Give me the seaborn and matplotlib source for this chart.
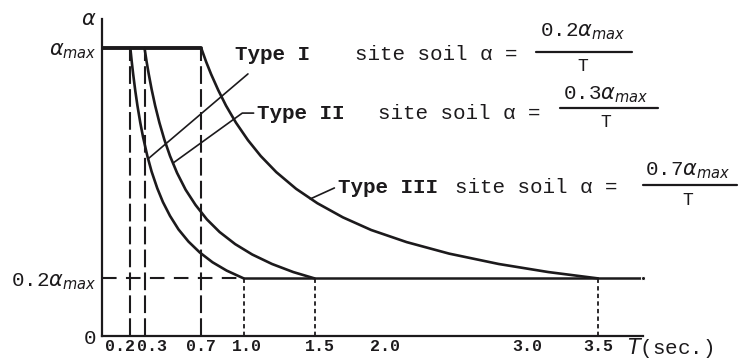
import matplotlib
matplotlib.use("Agg")
import matplotlib.pyplot as plt
import seaborn as sns
import pandas as pd
from matplotlib.transforms import ScaledTranslation

# ---------------- data ----------------
type1_T = [0.2, 0.21, 0.22, 0.235, 0.25, 0.27, 0.29, 0.32, 0.35, 0.39, 0.43, 0.48, 0.54, 0.61, 0.69, 0.78, 0.88, 1.0]
type1_a = [1.0, 0.952, 0.909, 0.851, 0.80, 0.741, 0.690, 0.625, 0.571, 0.513, 0.465, 0.417, 0.370, 0.328, 0.290, 0.256, 0.227, 0.20]
type2_T = [0.3, 0.315, 0.33, 0.35, 0.375, 0.405, 0.44, 0.48, 0.53, 0.59, 0.66, 0.74, 0.83, 0.94, 1.06, 1.2, 1.35, 1.5]
type2_a = [1.0, 0.952, 0.909, 0.857, 0.80, 0.741, 0.682, 0.625, 0.566, 0.508, 0.455, 0.405, 0.361, 0.319, 0.283, 0.25, 0.222, 0.20]
type3_T = [0.7, 0.735, 0.77, 0.82, 0.875, 0.945, 1.03, 1.12, 1.23, 1.37, 1.52, 1.7, 1.9, 2.15, 2.45, 2.8, 3.15, 3.5]
type3_a = [1.0, 0.952, 0.909, 0.854, 0.80, 0.741, 0.680, 0.625, 0.569, 0.511, 0.461, 0.412, 0.368, 0.326, 0.286, 0.25, 0.222, 0.20]
top_T = [0.0, 0.7]
top_a = [1.0, 1.0]
floor_T = [1.0, 3.82]
floor_a = [0.2, 0.2]
long_dash_T = [0.2, 0.3, 0.7]
short_dash_T = [1.0, 1.5, 3.5]
xtick_vals = [0.2, 0.3, 0.7, 1.0, 1.5, 2.0, 3.0, 3.5]
xtick_labels = ["0.2", "0.3", "0.7", "1.0", "1.5", "2.0", "3.0", "3.5"]
ytick_vals = [0.0, 0.2, 1.0]
ytick_labels = ["0", r"0.2$\alpha_{max}$", r"$\alpha_{max}$"]
minor_y = [0.4, 0.6, 0.8]
type_names = ["Type I", "Type II", "Type III"]
coeffs = ["0.2", "0.3", "0.7"]

ink = "#1c1a1c"
mono = "Liberation Mono"

sns.set_style("white")
plt.rcParams["mathtext.fontset"] = "dejavusans"

fig = plt.figure(figsize=(7.49, 3.59), dpi=100)
ax = fig.add_axes([102 / 749, 23 / 359, 541 / 749, 317 / 359])
ax.set_xlim(0, 541 / 141.7)
ax.set_ylim(0, 317 / 288)

curves = pd.concat([
    pd.DataFrame({"T": type1_T, "a": type1_a, "curve": type_names[0]}),
    pd.DataFrame({"T": type2_T, "a": type2_a, "curve": type_names[1]}),
    pd.DataFrame({"T": type3_T, "a": type3_a, "curve": type_names[2]}),
])
sns.lineplot(data=curves, x="T", y="a", units="curve", estimator=None, sort=False,
             color=ink, lw=1.9, ax=ax, legend=False)
sns.lineplot(x=top_T, y=top_a, color=ink, lw=2.8, ax=ax, legend=False)
sns.lineplot(x=floor_T, y=floor_a, color=ink, lw=1.8, ax=ax, legend=False,
             marker="o", markersize=3, markevery=[1])
ax.lines[-1].set_clip_on(False)

ax.vlines(long_dash_T, 0, 1.0, colors=ink, lw=1.5, linestyles=[(0, (8.5, 2.5))])
ax.vlines(short_dash_T, 0, 0.2, colors=ink, lw=1.3, linestyles=[(0, (2.4, 1.8))])
ax.hlines(0.2, 0, 1.0, colors=ink, lw=1.5, linestyles=[(0, (7, 4.5))])

# leader lines to the type labels
ax.plot([0.325, 1.03], [0.615, 0.91], color=ink, lw=1.2)
ax.plot([0.5, 0.99, 1.07], [0.6, 0.774, 0.774], color=ink, lw=1.2)
ax.plot([1.47, 1.64], [0.476, 0.514], color=ink, lw=1.2)

# labels
rows = [
    # type_x, row_y, site_x, num_x, num_y, line_x0, line_x1, line_y, den_y
    (0.94, 0.976, 1.785, 3.39, 1.055, 3.06, 3.74, 0.986, 0.935),
    (1.094, 0.774, 1.948, 3.557, 0.837, 3.232, 3.924, 0.792, 0.741),
    (1.665, 0.514, 2.49, 4.135, 0.575, 3.818, 4.481, 0.524, 0.472),
]
for name, c, (tx, ry, sx, nx, ny, lx0, lx1, ly, dy) in zip(type_names, coeffs, rows):
    ax.text(tx, ry, name, family=mono, fontsize=15, weight="bold", color=ink,
            ha="left", va="center")
    ax.text(sx, ry, "site soil α =", family=mono, fontsize=15, color=ink,
            ha="left", va="center")
    ax.text(nx, ny, c + r"$\alpha_{max}$", family=mono, fontsize=15, color=ink,
            ha="center", va="center", clip_on=False)
    ax.plot([lx0, lx1], [ly, ly], color=ink, lw=1.6, clip_on=False)
    ax.text(nx, dy, "T", family=mono, fontsize=13, color=ink,
            ha="center", va="center", clip_on=False)

ax.text(-0.095, 1.10, r"$\alpha$", fontsize=15, color=ink, ha="center", va="center")
ax.text(3.705, -0.04, r"$T$(sec.)", family=mono, fontsize=15, color=ink,
        ha="left", va="center", clip_on=False)

# axes & ticks
sns.despine(ax=ax)
for s in ["left", "bottom"]:
    ax.spines[s].set_color(ink)
    ax.spines[s].set_linewidth(1.6)
ax.set_xticks(xtick_vals, xtick_labels)
ax.set_yticks(ytick_vals, ytick_labels)
ax.set_yticks(minor_y, minor=True)
ax.tick_params(axis="x", length=3, width=1.2, direction="inout", pad=1,
               labelsize=12, colors=ink)
ax.tick_params(axis="y", which="major", length=0, pad=4, labelsize=15, colors=ink)
ax.tick_params(axis="y", which="minor", length=5, width=1.5, direction="inout", colors=ink)
for lab in ax.get_xticklabels():
    lab.set_family(mono)
    lab.set_weight("bold")
shifts = [-10, 7, 0, 3, 5, 0, 0, 0]
for lab, dx in zip(ax.get_xticklabels(), shifts):
    lab.set_transform(lab.get_transform() + ScaledTranslation(dx / 100, 0, fig.dpi_scale_trans))
for lab in ax.get_yticklabels():
    lab.set_family(mono)
ax.set_xlabel("")
ax.set_ylabel("")

fig.savefig("out.png", dpi=100, facecolor="white")
